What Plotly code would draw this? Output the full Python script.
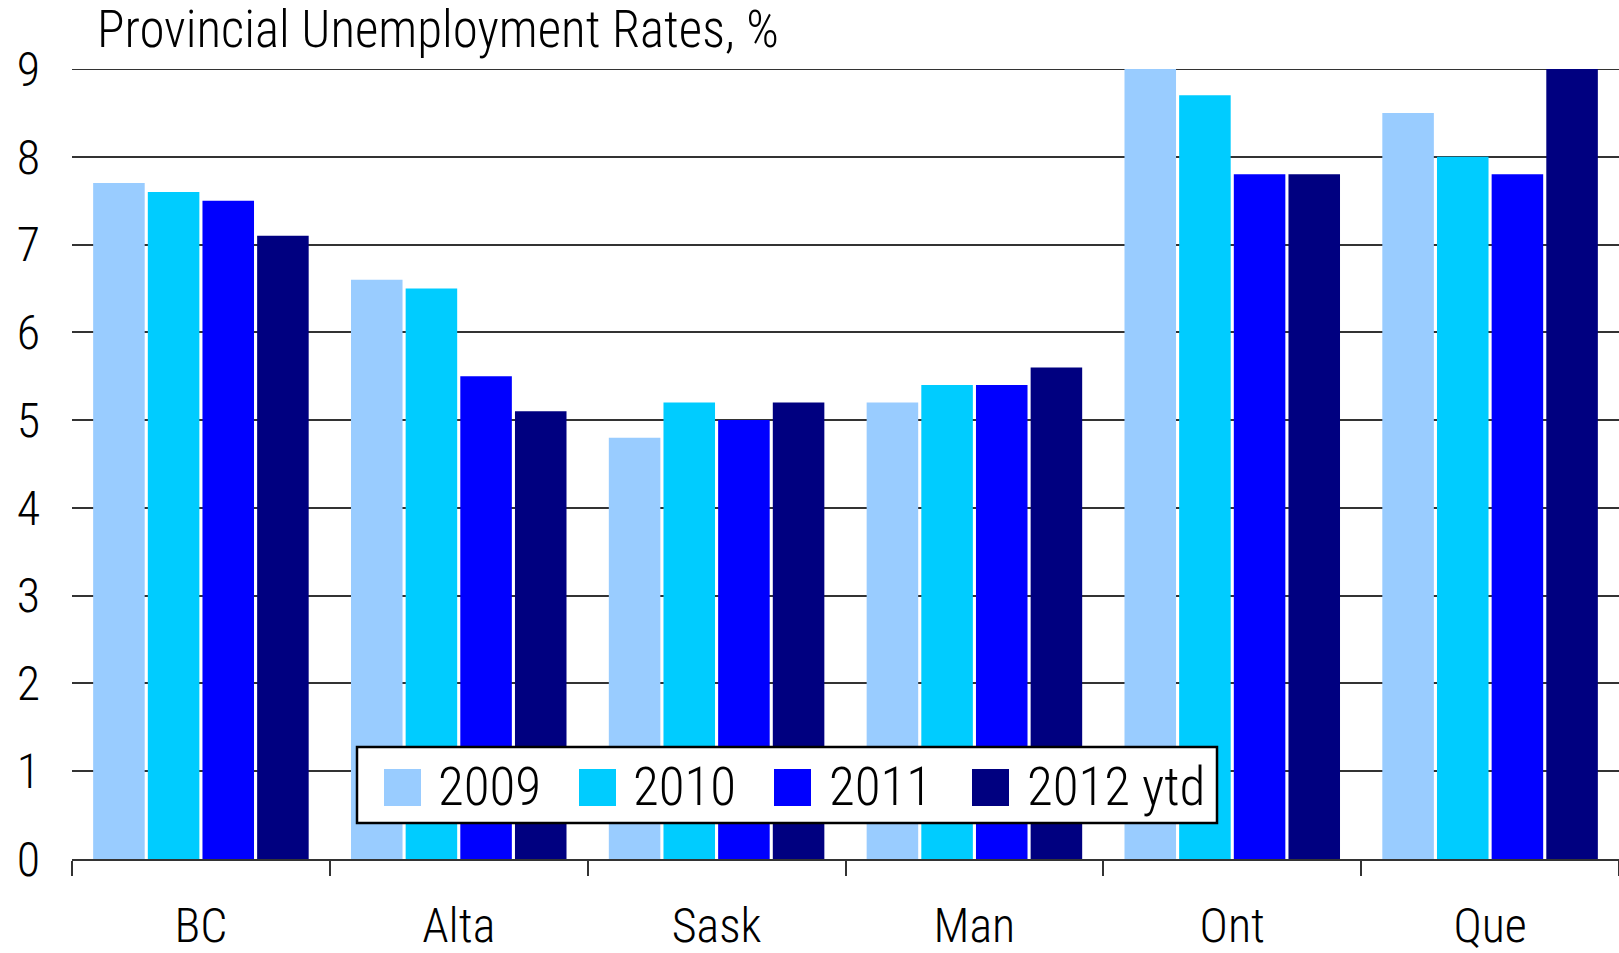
import plotly.graph_objects as go

# Provincial unemployment rates (%) by year
provinces = ["BC", "Alta", "Sask", "Man", "Ont", "Que"]
series_names = ["2009", "2010", "2011", "2012 ytd"]
rates_2009 = [7.7, 6.6, 4.8, 5.2, 9.0, 8.5]
rates_2010 = [7.6, 6.5, 5.2, 5.4, 8.7, 8.0]
rates_2011 = [7.5, 5.5, 5.0, 5.4, 7.8, 7.8]
rates_2012 = [7.1, 5.1, 5.2, 5.6, 7.8, 9.0]
y_ticks = list(range(0, 10))

series_values = [rates_2009, rates_2010, rates_2011, rates_2012]
colors = ["#99CCFF", "#00CCFF", "#0000FF", "#000080"]

FONT = "Roboto Condensed, Liberation Sans Narrow, sans-serif"
WEIGHT = 300
W, H = 1619, 953
ML, MR, MT, MB = 72, 0, 69, 94
PW, PH = W - ML - MR, H - MT - MB


def px_x(px):
    return (px - ML) / PW


def px_y(py):
    return (H - MB - py) / PH


fig = go.Figure()
for name, vals, col in zip(series_names, series_values, colors):
    fig.add_trace(go.Bar(
        x=provinces, y=vals, name=name,
        marker=dict(color=col, line=dict(width=0)),
        showlegend=False,
    ))

# Top gridline along the upper edge of the plot area
shapes = [dict(
    type="line", xref="paper", yref="y", x0=0, x1=1, y0=y_ticks[-1], y1=y_ticks[-1],
    line=dict(color="#333333", width=2), layer="below",
)]

# Hand-built legend box with large colour swatches
shapes.append(dict(
    type="rect", xref="paper", yref="paper",
    x0=px_x(357), x1=px_x(1217), y0=px_y(823), y1=px_y(747),
    line=dict(color="#000000", width=2.5), fillcolor="#FFFFFF", layer="above",
))
annotations = []
swatch_left = [384, 579, 774, 972]
text_left = [438, 633, 829, 1027]
for name, col, sx, tx in zip(series_names, colors, swatch_left, text_left):
    shapes.append(dict(
        type="rect", xref="paper", yref="paper",
        x0=px_x(sx), x1=px_x(sx + 37), y0=px_y(806), y1=px_y(769),
        line=dict(width=0), fillcolor=col, layer="above",
    ))
    annotations.append(dict(
        text=name, xref="paper", yref="paper",
        x=px_x(tx), y=px_y(787), xanchor="left", yanchor="middle",
        showarrow=False,
        font=dict(family=FONT, size=53, color="#000000", weight=WEIGHT),
        xshift=-2,
    ))

annotations.append(dict(
    text="Provincial Unemployment Rates, %",
    xref="paper", yref="paper", x=px_x(97), y=1,
    xanchor="left", yanchor="bottom", showarrow=False,
    xshift=-2, yshift=8,
    font=dict(family=FONT, size=51, color="#000000", weight=WEIGHT),
))

fig.update_layout(
    width=W, height=H,
    margin=dict(l=ML, r=MR, t=MT, b=MB),
    paper_bgcolor="#FFFFFF", plot_bgcolor="#FFFFFF",
    barmode="group", bargap=0.152, bargroupgap=0.057,
    font=dict(family=FONT, color="#000000"),
    shapes=shapes, annotations=annotations,
    showlegend=False,
)
fig.update_xaxes(
    automargin=False,
    showline=True, linecolor="#333333", linewidth=2,
    ticks="outside", tickson="boundaries", ticklen=15, tickwidth=1.5,
    tickcolor="#333333", showgrid=False,
    tickfont=dict(family=FONT, size=48, color="#000000", weight=WEIGHT),
    ticklabelstandoff=23,
)
fig.update_yaxes(
    automargin=False,
    range=[0, 9], tickvals=y_ticks, ticktext=[str(v) for v in y_ticks],
    showgrid=True, gridcolor="#333333", gridwidth=2,
    zeroline=False, showline=False, ticks="",
    tickfont=dict(family=FONT, size=48, color="#000000", weight=WEIGHT),
    ticklabelstandoff=31,
)

fig.write_html("out.html")
